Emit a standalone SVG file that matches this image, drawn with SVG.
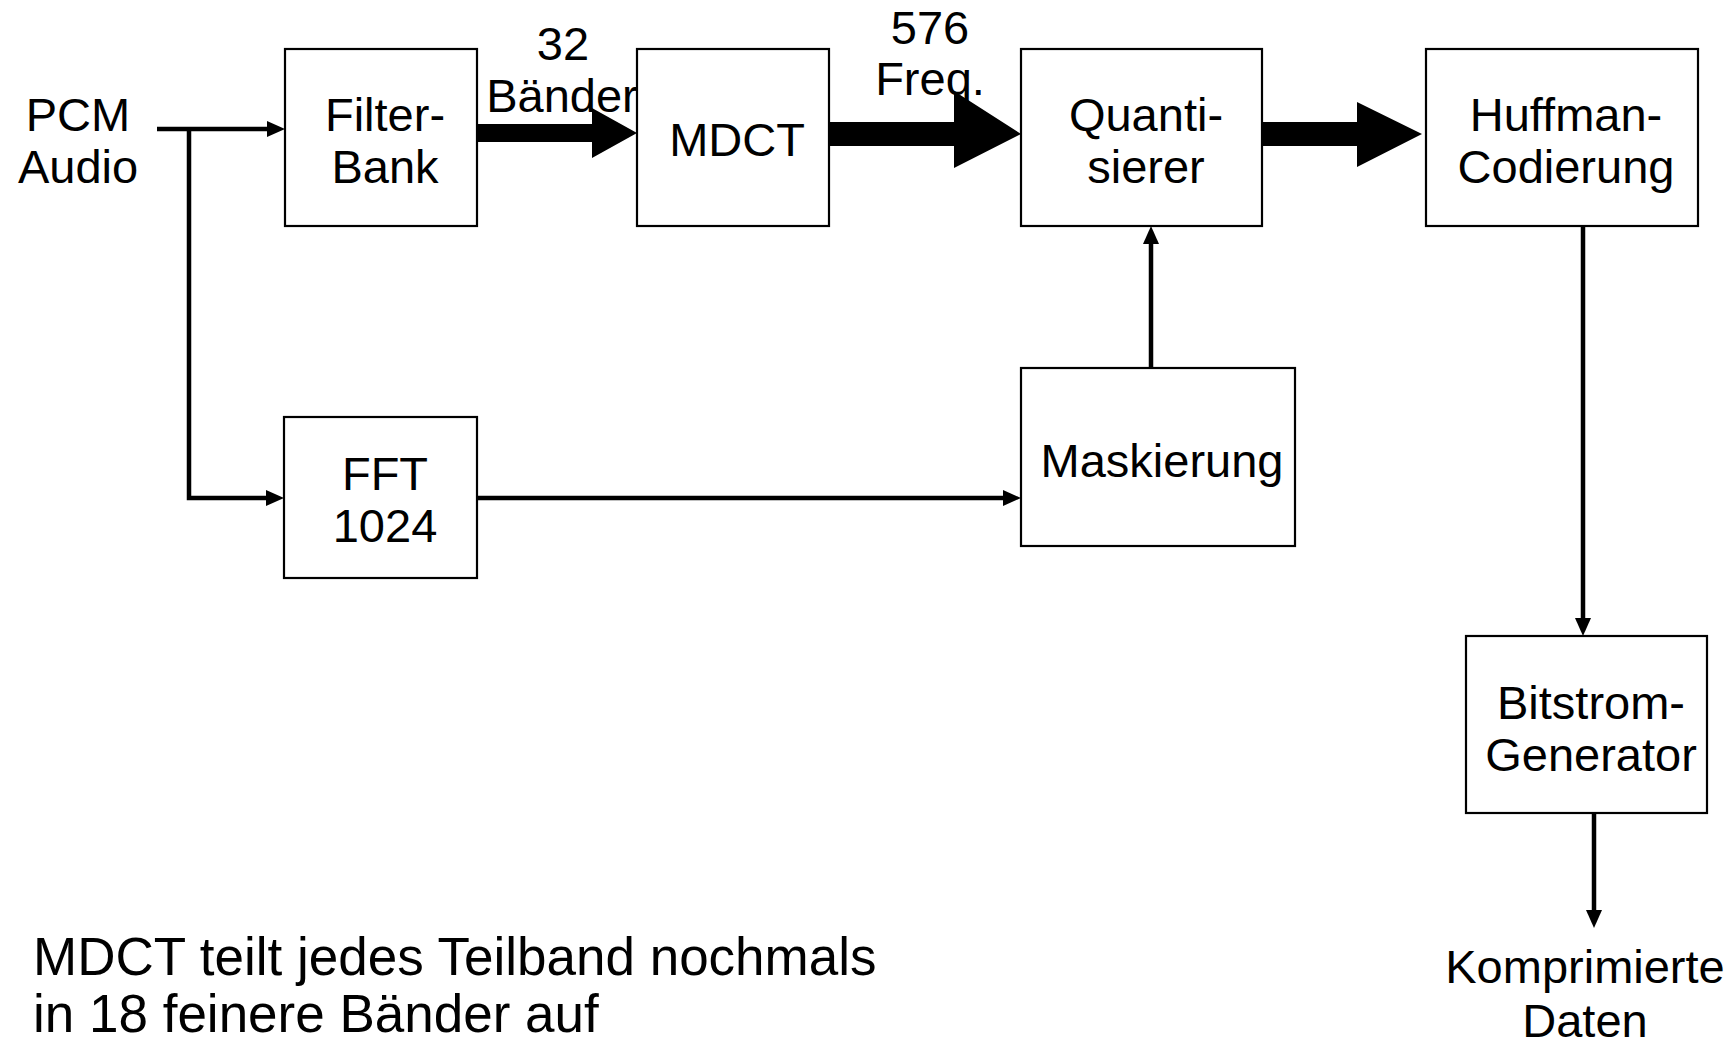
<svg xmlns="http://www.w3.org/2000/svg" width="1735" height="1046" viewBox="0 0 1735 1046">
<defs>
<style>
.box{fill:#fff;stroke:#000;stroke-width:2.2}
.t{font-family:"Liberation Sans",Arial,sans-serif;font-size:47px;fill:#000;text-anchor:middle}
.ln{fill:none;stroke:#000;stroke-width:4.5}
.big{fill:#000;stroke:none}
</style>
<marker id="ah" markerUnits="userSpaceOnUse" markerWidth="20" markerHeight="20" viewBox="0 0 20 20" refX="8" refY="10" orient="auto">
<path d="M0,2 L18,10 L0,18 Z" fill="#000"/>
</marker>
</defs>
<rect width="1735" height="1046" fill="#fff"/>
<g id="connectors">
<path class="ln" d="M157,129 H275" marker-end="url(#ah)"/>
<path class="ln" d="M189,129 V498 H274" marker-end="url(#ah)"/>
<path class="ln" d="M477,498 H1011" marker-end="url(#ah)"/>
<path class="ln" d="M1151,368 V236" marker-end="url(#ah)"/>
<path class="ln" d="M1583,226 V626" marker-end="url(#ah)"/>
<path class="ln" d="M1594,813 V918" marker-end="url(#ah)"/>
<polygon class="big" points="477,124 592,124 592,108 637,133 592,158 592,142 477,142"/>
<polygon class="big" points="829,122 954,122 954,91 1021,134 954,168 954,146 829,146"/>
<polygon class="big" points="1262,122 1357,122 1357,102 1422,134 1357,167 1357,146 1262,146"/>
<text class="t" x="563" y="60">32</text>
<text class="t" x="562" y="112">Bänder</text>
<text class="t" x="930" y="44">576</text>
<text class="t" x="930" y="95">Freq.</text>
</g>
<g id="pcm"><text class="t" x="78" y="131">PCM</text><text class="t" x="78" y="183">Audio</text></g>
<g id="filterbank"><rect class="box" x="285" y="49" width="192" height="177"/><text class="t" x="385" y="131">Filter-</text><text class="t" x="385" y="183">Bank</text></g>
<g id="mdct"><rect class="box" x="637" y="49" width="192" height="177"/><text class="t" x="737" y="156">MDCT</text></g>
<g id="quantisierer"><rect class="box" x="1021" y="49" width="241" height="177"/><text class="t" x="1146" y="131">Quanti-</text><text class="t" x="1146" y="183">sierer</text></g>
<g id="huffman"><rect class="box" x="1426" y="49" width="272" height="177"/><text class="t" x="1566" y="131">Huffman-</text><text class="t" x="1566" y="183">Codierung</text></g>
<g id="fft"><rect class="box" x="284" y="417" width="193" height="161"/><text class="t" x="385" y="490">FFT</text><text class="t" x="385" y="542">1024</text></g>
<g id="maskierung"><rect class="box" x="1021" y="368" width="274" height="178"/><text class="t" x="1162" y="477">Maskierung</text></g>
<g id="bitstrom"><rect class="box" x="1466" y="636" width="241" height="177"/><text class="t" x="1591" y="719">Bitstrom-</text><text class="t" x="1591" y="771">Generator</text></g>
<g id="output"><text class="t" x="1585" y="983">Komprimierte</text><text class="t" x="1585" y="1037">Daten</text></g>
<g id="note"><text class="t" style="text-anchor:start;font-size:53px" x="33" y="975">MDCT teilt jedes Teilband nochmals</text><text class="t" style="text-anchor:start;font-size:53px" x="33" y="1032">in 18 feinere Bänder auf</text></g>
</svg>
